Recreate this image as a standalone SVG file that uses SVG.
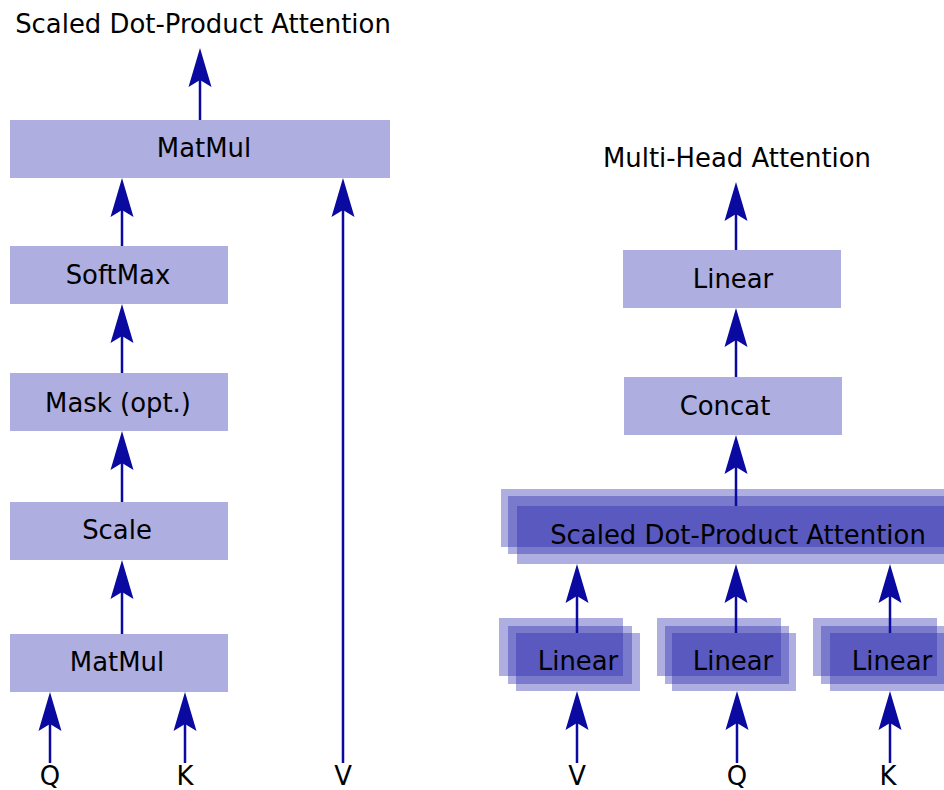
<svg xmlns="http://www.w3.org/2000/svg" width="944" height="790" viewBox="0 0 944 790">
<style>
  .box { fill: #aeaee0; }
  .layer { fill: #1e1eaa; fill-opacity: 0.36; }
  .lbl { font-family: "DejaVu Sans", Verdana, sans-serif; font-size: 25.9px; fill: #000; text-anchor: middle; }
  .conn { stroke: #0a0aa0; stroke-width: 2.5; fill: none; }
  .conn line { marker-end: url(#ah); }
</style>
<defs>
  <marker id="ah" markerUnits="userSpaceOnUse" orient="auto" markerWidth="50" markerHeight="30" viewBox="-10 -15 50 30" refX="0" refY="0" overflow="visible">
    <path d="M32,0 L-7,-11.5 L0,0 L-7,11.5 Z" fill="#0a0aa0" stroke="none"/>
  </marker>
</defs>
<rect width="944" height="790" fill="#ffffff"/>

<!-- Left: Scaled Dot-Product Attention -->
<text id="title-sdpa" class="lbl" x="203" y="33">Scaled Dot-Product Attention</text>

<g id="matmul-top"><rect class="box" x="10" y="120" width="380" height="58"/><text class="lbl" x="204" y="157">MatMul</text></g>
<g id="softmax"><rect class="box" x="10" y="246" width="218" height="58"/><text class="lbl" x="118" y="284">SoftMax</text></g>
<g id="mask"><rect class="box" x="10" y="373" width="218" height="58"/><text class="lbl" x="118" y="412">Mask (opt.)</text></g>
<g id="scale"><rect class="box" x="10" y="502" width="218" height="58"/><text class="lbl" x="117" y="539">Scale</text></g>
<g id="matmul-bottom"><rect class="box" x="10" y="634" width="218" height="58"/><text class="lbl" x="117" y="671">MatMul</text></g>

<g id="in-q-left"><text class="lbl" x="50" y="785">Q</text></g>
<g id="in-k-left"><text class="lbl" x="185" y="785">K</text></g>
<g id="in-v-left"><text class="lbl" x="343" y="785">V</text></g>

<!-- Right: Multi-Head Attention -->
<text id="title-mha" class="lbl" x="737" y="167">Multi-Head Attention</text>

<g id="linear-top"><rect class="box" x="623" y="250" width="218" height="58"/><text class="lbl" x="733" y="288">Linear</text></g>
<g id="concat"><rect class="box" x="624" y="377" width="218" height="58"/><text class="lbl" x="725" y="415">Concat</text></g>

<g id="sdpa-stack">
  <rect class="layer" x="501" y="489" width="460" height="58"/>
  <rect class="layer" x="508" y="496" width="460" height="58"/>
  <rect class="layer" x="517" y="506" width="460" height="58"/>
  <text class="lbl" x="738" y="544">Scaled Dot-Product Attention</text>
</g>

<g id="linear-v">
  <rect class="layer" x="499" y="618" width="124" height="58"/>
  <rect class="layer" x="508" y="626" width="124" height="58"/>
  <rect class="layer" x="516" y="633" width="124" height="58"/>
  <text class="lbl" x="578" y="670">Linear</text>
</g>
<g id="linear-q">
  <rect class="layer" x="657" y="618" width="124" height="58"/>
  <rect class="layer" x="665" y="626" width="124" height="58"/>
  <rect class="layer" x="672" y="633" width="124" height="58"/>
  <text class="lbl" x="733" y="670">Linear</text>
</g>
<g id="linear-k">
  <rect class="layer" x="813" y="618" width="124" height="58"/>
  <rect class="layer" x="821" y="626" width="124" height="58"/>
  <rect class="layer" x="830" y="633" width="124" height="58"/>
  <text class="lbl" x="892" y="670">Linear</text>
</g>

<g id="in-v-right"><text class="lbl" x="577" y="785">V</text></g>
<g id="in-q-right"><text class="lbl" x="737" y="785">Q</text></g>
<g id="in-k-right"><text class="lbl" x="888" y="785">K</text></g>

<!-- Connectors: line ends 32px below arrow tip (marker notch) -->
<g id="connectors" class="conn">
  <line x1="200" y1="120" x2="200" y2="80"/>
  <line x1="122" y1="246" x2="122" y2="210"/>
  <line x1="122" y1="373" x2="122" y2="336"/>
  <line x1="122" y1="502" x2="122" y2="463"/>
  <line x1="122" y1="634" x2="122" y2="592"/>
  <line x1="50" y1="763" x2="50" y2="724"/>
  <line x1="185" y1="763" x2="185" y2="724"/>
  <line x1="343" y1="763" x2="343" y2="210"/>

  <line x1="736" y1="250" x2="736" y2="214"/>
  <line x1="736" y1="377" x2="736" y2="340"/>
  <line x1="736" y1="506" x2="736" y2="467"/>
  <line x1="577" y1="633" x2="577" y2="596"/>
  <line x1="736" y1="633" x2="736" y2="596"/>
  <line x1="890" y1="633" x2="890" y2="596"/>
  <line x1="577" y1="763" x2="577" y2="723"/>
  <line x1="737" y1="763" x2="737" y2="723"/>
  <line x1="890" y1="763" x2="890" y2="723"/>
</g>
</svg>
